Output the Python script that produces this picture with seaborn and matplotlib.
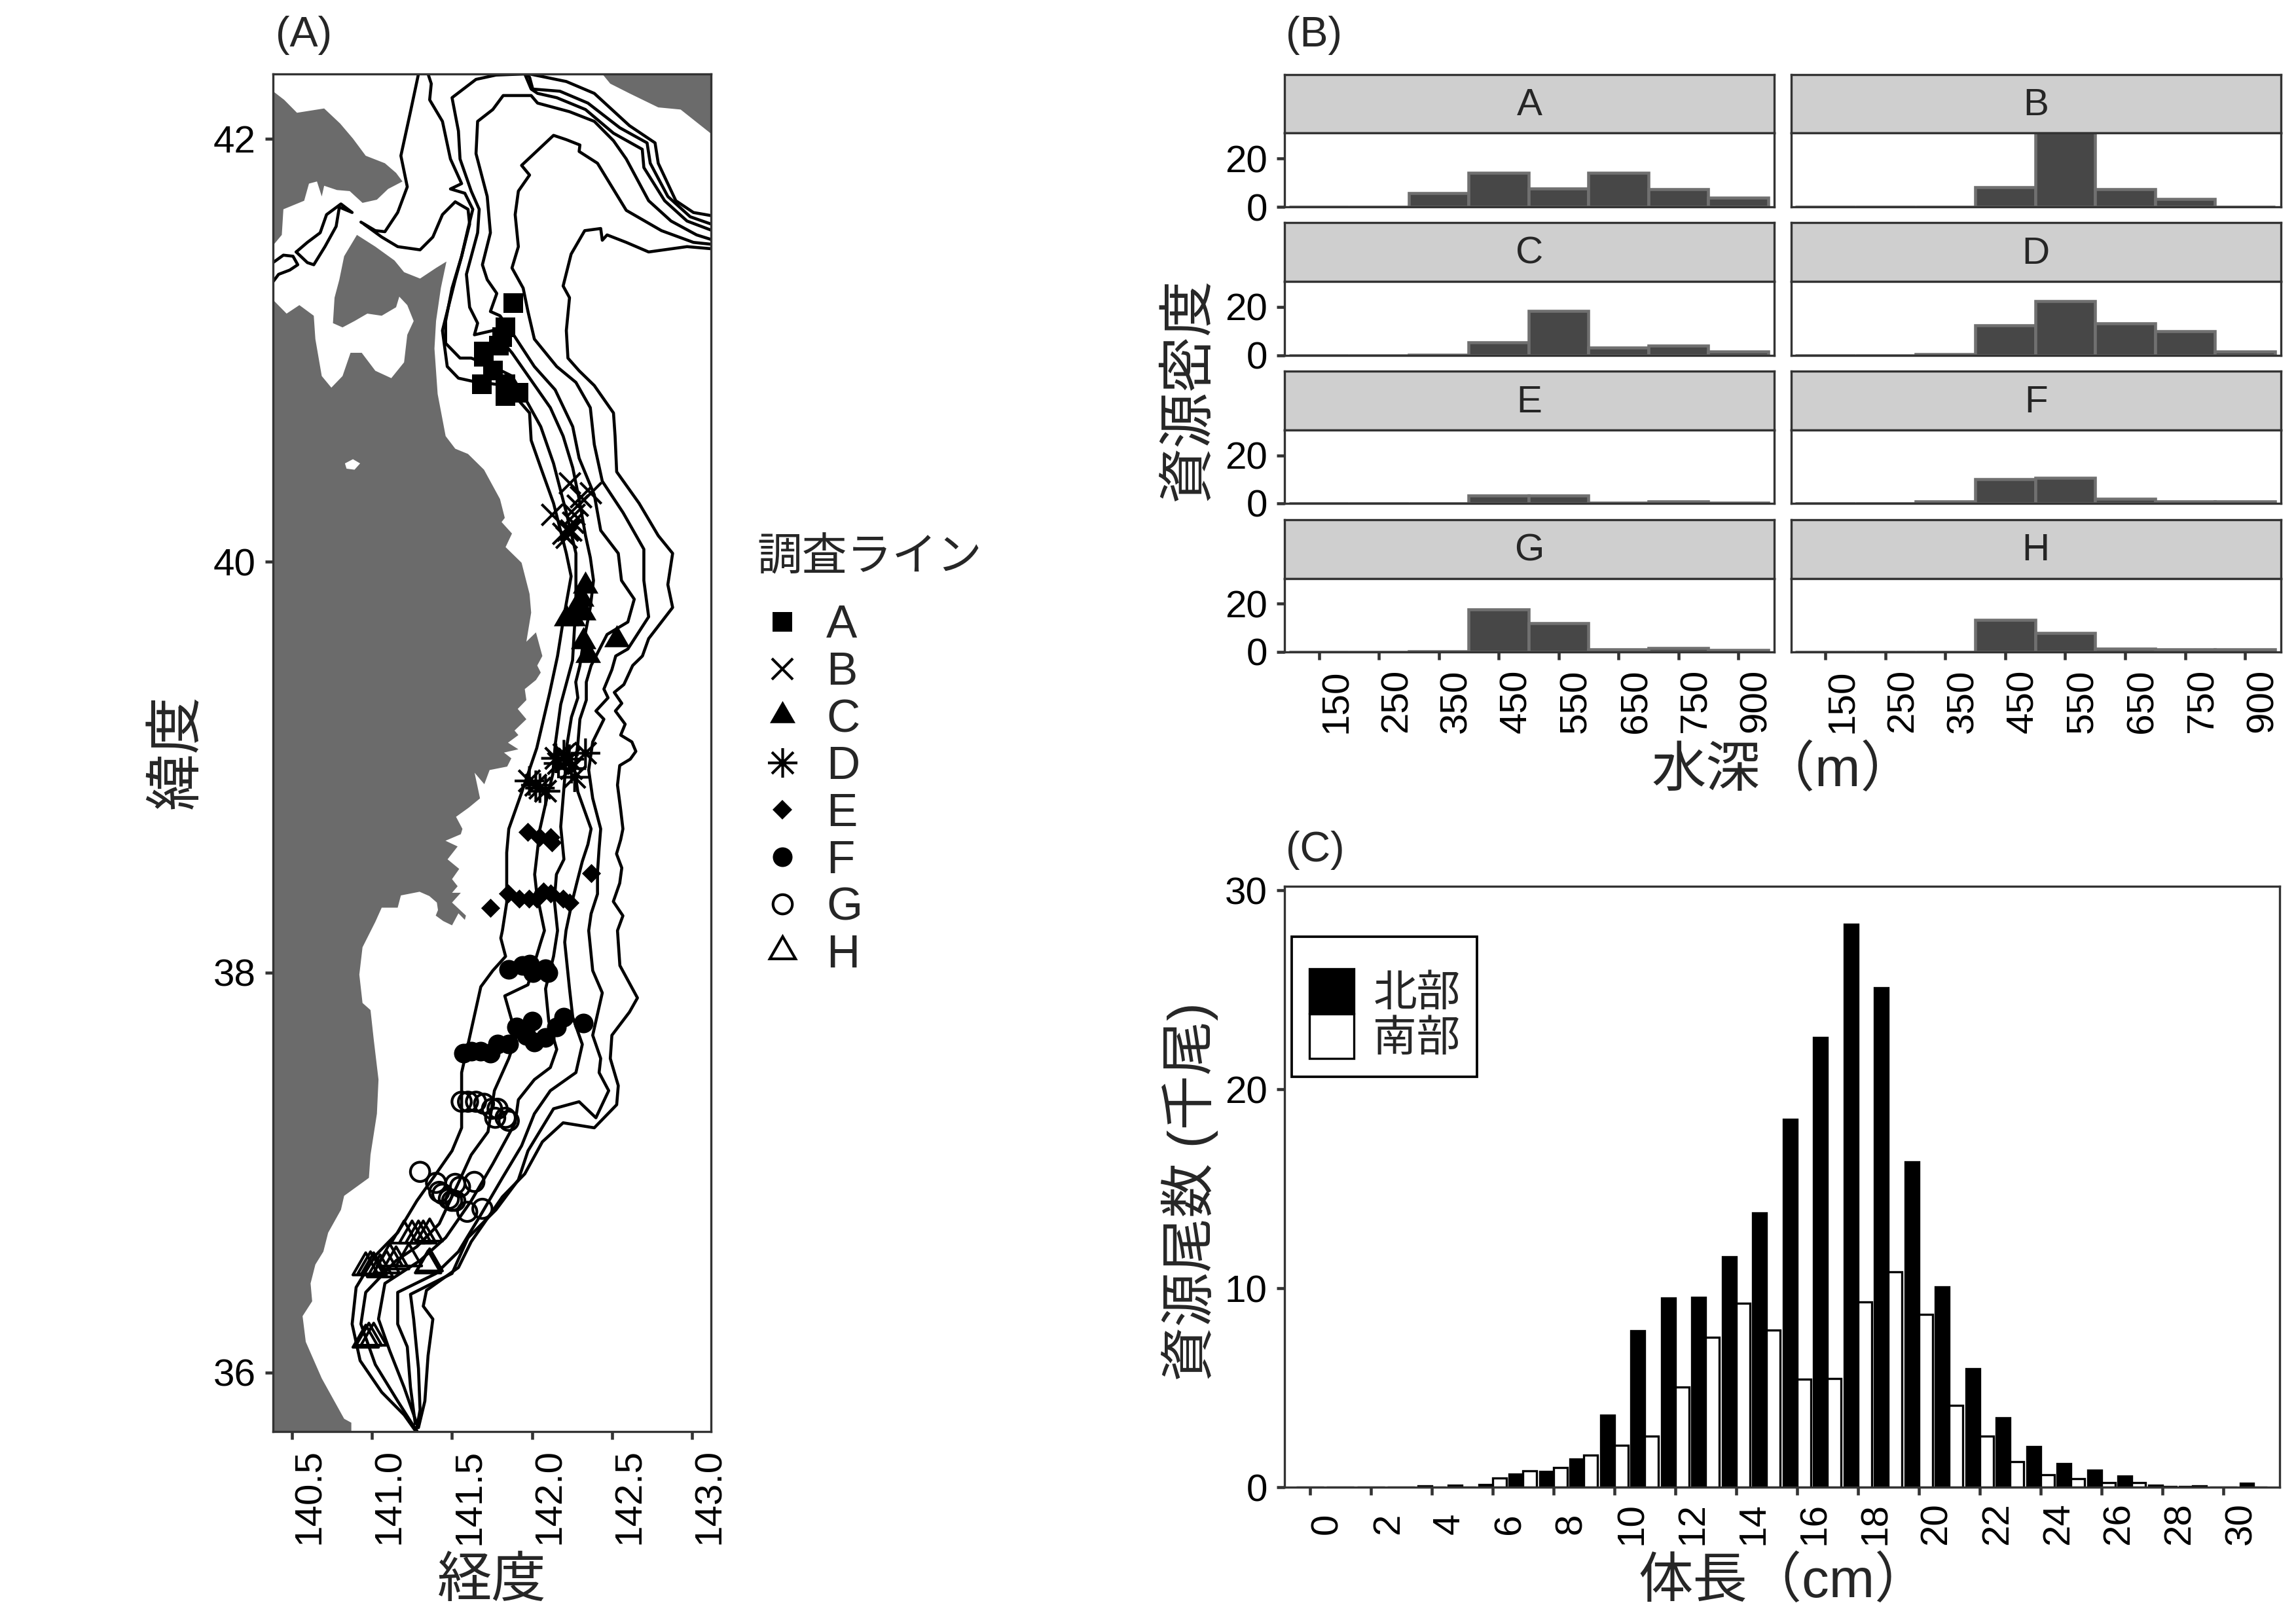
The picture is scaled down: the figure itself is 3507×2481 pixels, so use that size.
import numpy as np
import pandas as pd
import matplotlib
matplotlib.use("Agg")
import matplotlib.pyplot as plt
import seaborn as sns
from matplotlib.lines import Line2D
from matplotlib.path import Path

# ---- map outlines, (lon, lat) ----
hokkaido = [(140.30,42.22),(140.38,42.22),(140.45,42.18),(140.53,42.12),(140.615,42.13),(140.70,42.14),(140.80,42.07),
    (140.88,42.0),(140.96,41.92),(141.08,41.885),(141.15,41.84),(141.19,41.80),(141.10,41.765),(141.03,41.715),
    (140.94,41.70),(140.86,41.755),(140.78,41.76),(140.70,41.78),(140.685,41.73),(140.655,41.80),(140.605,41.79),
    (140.575,41.71),(140.445,41.67),(140.435,41.55),(140.385,41.505),(140.30,41.505)]
honshu = [(140.30,41.245),(140.38,41.245),(140.465,41.18),(140.545,41.22),(140.635,41.17),(140.645,41.06),(140.685,40.885),
    (140.745,40.83),(140.815,40.885),(140.865,40.995),(140.935,40.995),(141.02,40.91),(141.12,40.875),(141.20,40.95),
    (141.22,41.08),(141.26,41.145),(141.22,41.22),(141.17,41.26),(141.15,41.21),(141.06,41.17),(140.97,41.18),
    (140.89,41.145),(140.815,41.115),(140.755,41.135),(140.765,41.255),(140.795,41.34),(140.825,41.45),(140.905,41.55),
    (141.02,41.495),(141.14,41.43),(141.20,41.375),(141.30,41.345),(141.40,41.395),(141.465,41.425),(141.43,41.30),
    (141.40,41.145),(141.39,41.015),(141.41,40.80),(141.46,40.60),(141.52,40.54),(141.60,40.515),(141.70,40.44),
    (141.80,40.30),(141.83,40.21),(141.81,40.19),(141.875,40.135),(141.835,40.07),(141.935,39.995),(141.985,39.845),
    (141.995,39.755),(141.965,39.615),(142.025,39.66),(142.065,39.546),(142.033,39.50),(142.055,39.466),(142.025,39.43),
    (141.955,39.386),(141.965,39.333),(141.911,39.29),(141.965,39.24),(141.891,39.185),(141.915,39.163),(141.85,39.126),
    (141.915,39.094),(141.825,39.078),(141.871,39.05),(141.845,39.01),(141.735,38.993),(141.702,38.924),(141.641,38.98),
    (141.675,38.855),(141.605,38.81),(141.525,38.765),(141.565,38.706),(141.555,38.68),(141.459,38.648),(141.535,38.62),
    (141.472,38.557),(141.545,38.51),(141.5,38.46),(141.535,38.425),(141.5,38.393),(141.555,38.393),(141.5,38.345),
    (141.587,38.281),(141.58,38.26),(141.54,38.292),(141.5,38.233),(141.445,38.254),(141.398,38.281),(141.412,38.308),
    (141.405,38.345),(141.358,38.377),(141.297,38.398),(141.18,38.38),(141.16,38.32),(141.06,38.32),
    (141.02,38.25),(140.94,38.125),(140.92,37.99),(140.94,37.85),(140.99,37.815),(141.01,37.67),(141.04,37.47),
    (141.03,37.30),(140.99,37.095),(140.98,36.98),(140.825,36.89),(140.805,36.82),(140.725,36.705),(140.695,36.61),
    (140.645,36.545),(140.615,36.45),(140.625,36.36),(140.565,36.285),(140.585,36.155),(140.685,35.97),(140.825,35.765),
    (140.87,35.745),(140.87,35.60),(140.30,35.60)]
east_land = [(142.44,42.30),(142.49,42.255),(142.61,42.21),(142.79,42.145),(142.93,42.135),(143.125,42.02),(143.3,42.02),
    (143.3,42.4),(142.44,42.4)]
lake = [(140.83,40.47),(140.88,40.49),(140.925,40.47),(140.89,40.44),(140.84,40.445)]

# ---- depth contours, (lon, lat) ----
strait_a = [(140.93,41.61),(141.02,41.57),(141.08,41.565),(141.16,41.655),(141.22,41.775),(141.18,41.92),(141.24,42.125),(141.29,42.30),(141.30,42.4)]
strait_b = [(140.30,41.40),(140.38,41.42),(140.445,41.455),(140.505,41.45),(140.535,41.41),(140.485,41.385),(140.415,41.365),(140.38,41.33),(140.30,41.30)]
strait_c = [(140.525,41.47),(140.595,41.515),(140.675,41.56),(140.715,41.645),(140.805,41.695),(140.875,41.655),(140.795,41.68),
    (140.775,41.59),(140.705,41.495),(140.635,41.41),(140.595,41.42),(140.525,41.47)]
nest_a = [(141.985,42.30),(142.215,42.265),(142.39,42.21),(142.61,42.06),(142.77,41.98),(142.79,41.885),(142.90,41.71),(143.01,41.655),(143.2,41.63)]
nest_b = [(141.935,42.32),(141.985,42.285),(142.005,42.23),(142.175,42.22),(142.35,42.165),(142.55,42.05),(142.72,41.98),(142.74,41.885),(142.85,41.73),(142.99,41.635),(143.2,41.58)]
depth_1 = [(141.35,42.30),(141.37,42.255),(141.36,42.18),(141.44,42.08),(141.49,41.905),(141.56,41.79),(141.49,41.765),(141.58,41.745),
    (141.63,41.67),(141.60,41.58),(141.56,41.45),(141.52,41.34),(141.47,41.19),(141.44,41.10),(141.47,40.93),(141.54,40.875),(141.63,40.86),
    (141.835,40.84),(141.985,40.71),(141.995,40.58),(142.055,40.45),(142.135,40.28),(142.215,40.04),(142.245,39.93),(142.195,39.715),
    (142.16,39.546),(142.11,39.365),(142.03,39.10),(141.937,38.887),(141.855,38.706),(141.842,38.59),(141.842,38.345),(141.815,38.207),
    (141.805,38.17),(141.835,38.08),(141.755,38.01),(141.68,37.93),(141.60,37.645),(141.56,37.505),(141.56,37.37),(141.56,37.23),(141.50,37.115),
    (141.40,37.0),(141.28,36.865),(141.16,36.705),(141.02,36.59),(140.90,36.43),(140.875,36.245),(140.925,36.06),(141.06,35.90),(141.20,35.785),(141.27,35.705)]
depth_2 = [(140.95,41.60),(141.06,41.54),(141.16,41.495),(141.30,41.48),(141.38,41.54),(141.44,41.645),(141.52,41.705),(141.60,41.67),(141.61,41.60),
    (141.56,41.45),(141.50,41.30),(141.46,41.145),(141.46,41.04),(141.55,40.97),(141.62,40.97),(141.755,40.93),(141.875,40.885),(141.975,40.755),
    (142.055,40.645),(142.135,40.47),(142.215,40.235),(142.275,40.04),(142.275,39.80),(142.254,39.525),(142.18,39.312),(142.146,39.12),(142.13,38.972),
    (142.09,38.845),(142.05,38.706),(142.017,38.483),(142.03,38.39),(142.078,38.207),(142.055,38.15),(141.975,37.94),(141.83,37.885),(141.875,37.76),(141.905,37.69),
    (141.855,37.575),(141.765,37.415),(141.725,37.21),(141.62,37.095),(141.54,36.955),(141.42,36.75),(141.28,36.635),(141.15,36.565),(140.96,36.405),
    (140.93,36.245),(141.02,36.04),(141.16,35.855),(141.25,35.74),(141.28,35.705)]
depth_3 = [(143.2,41.55),(142.97,41.615),(142.83,41.71),(142.70,41.865),(142.69,41.95),(142.51,42.025),(142.335,42.135),(142.155,42.19),(142.035,42.21),
    (141.995,42.23),(141.955,42.30),(141.775,42.295),(141.65,42.275),(141.50,42.19),(141.54,42.035),(141.55,41.905),(141.62,41.755),(141.67,41.67),
    (141.66,41.56),(141.59,41.365),(141.61,41.21),(141.66,41.135),(141.64,41.08),(141.755,41.10),(141.875,40.995),(141.995,40.865),(142.115,40.735),
    (142.195,40.60),(142.255,40.45),(142.295,40.30),(142.335,40.125),(142.365,40.02),(142.385,39.91),(142.365,39.78),(142.315,39.58),(142.30,39.50),
    (142.274,39.42),(142.287,39.344),(142.247,39.25),(142.22,39.12),(142.207,38.972),(142.18,38.717),(142.2,38.557),(142.153,38.483),(142.14,38.356),
    (142.16,38.207),(142.135,38.08),(142.085,37.92),(142.105,37.76),
    (142.155,37.62),(142.115,37.53),(142.015,37.47),(141.915,37.37),(141.895,37.255),(141.755,37.05),(141.62,36.865),(141.46,36.68),(141.30,36.565),
    (141.08,36.45),(141.04,36.27),(141.11,36.11),(141.20,35.925),(141.28,35.74)]
depth_4 = [(143.2,41.51),(143.03,41.55),(142.87,41.615),(142.73,41.71),(142.59,41.905),(142.51,41.99),(142.39,42.08),(142.235,42.125),(142.035,42.165),
    (141.995,42.20),(141.82,42.20),(141.755,42.135),(141.66,42.08),(141.65,41.93),(141.72,41.73),(141.74,41.56),(141.69,41.41),(141.72,41.34),(141.78,41.275),
    (141.74,41.19),(141.80,41.17),(141.885,41.08),(142.015,40.93),(142.145,40.82),(142.255,40.645),(142.295,40.495),(142.39,40.32),(142.43,40.15),(142.54,40.04),
    (142.56,39.91),(142.64,39.82),(142.60,39.71),(142.47,39.65),(142.41,39.56),(142.37,39.50),(142.34,39.42),(142.34,39.333),(142.30,39.24),(142.287,39.12),
    (142.267,38.993),(142.287,38.887),(142.37,38.706),(142.35,38.63),(142.315,38.547),(142.28,38.44),(142.25,38.345),(142.213,38.207),(142.205,38.15),
    (142.235,37.92),(142.255,37.78),(142.315,37.645),(142.275,37.505),(142.115,37.415),(142.015,37.30),
    (141.935,37.14),(141.815,36.98),(141.68,36.795),(141.54,36.61),(141.40,36.50),(141.16,36.405),(141.16,36.245),(141.22,36.13),(141.24,35.925),(141.27,35.74)]
depth_5 = [(143.2,41.50),(143.01,41.515),(142.81,41.57),(142.59,41.665),(142.41,41.885),(142.295,41.94),(142.30,41.97),(142.215,41.995),(142.135,42.015),
    (141.935,41.875),(141.985,41.83),(141.915,41.755),(141.895,41.645),(141.915,41.495),(141.875,41.395),(141.945,41.30),(141.975,41.19),(142.015,41.06),
    (142.155,40.93),(142.275,40.855),(142.365,40.735),(142.39,40.56),(142.44,40.385),(142.57,40.235),(142.70,40.06),(142.70,39.91),(142.73,39.735),(142.60,39.58),
    (142.524,39.546),(142.5,39.48),(142.45,39.386),(142.476,39.344),(142.40,39.28),(142.45,39.24),(142.38,39.13),(142.355,38.993),(142.38,38.855),(142.43,38.706),
    (142.42,38.61),(142.41,38.494),(142.41,38.387),(142.37,38.29),(142.355,38.207),(142.38,38.01),(142.44,37.90),
    (142.38,37.69),(142.43,37.575),(142.42,37.505),(142.48,37.415),(142.40,37.28),(142.295,37.36),(142.135,37.325),(141.975,37.115),(141.915,36.97),(141.775,36.82),
    (141.60,36.68),(141.50,36.50),(141.24,36.395),(141.26,36.27),(141.29,36.02),(141.30,35.81),(141.28,35.72)]
depth_6 = [(143.2,41.48),(142.97,41.495),(142.73,41.47),(142.59,41.515),(142.47,41.55),(142.44,41.525),(142.43,41.58),(142.33,41.57),(142.245,41.46),(142.195,41.31),
    (142.235,41.255),(142.215,41.10),(142.225,40.97),(142.295,40.91),(142.39,40.84),(142.51,40.71),(142.52,40.60),(142.53,40.43),(142.67,40.28),(142.79,40.125),
    (142.88,40.04),(142.85,39.89),(142.88,39.78),(142.73,39.63),(142.691,39.546),(142.63,39.50),(142.575,39.408),(142.515,39.37),(142.562,39.317),(142.522,39.28),
    (142.583,39.216),(142.555,39.163),(142.625,39.13),(142.65,39.084),(142.615,39.046),(142.549,39.015),(142.535,38.92),(142.555,38.80),(142.569,38.706),(142.555,38.653),
    (142.529,38.584),(142.562,38.515),(142.549,38.44),(142.509,38.35),(142.569,38.28),(142.535,38.207),(142.55,38.035),(142.66,37.875),(142.61,37.805),(142.50,37.69),(142.49,37.575),(142.54,37.44),
    (142.53,37.345),(142.39,37.23),(142.195,37.255),(142.065,37.16),(141.955,37.0),(141.815,36.885),(141.62,36.66),(141.54,36.53),(141.34,36.415),(141.32,36.335),
    (141.38,36.27),(141.35,36.085),(141.33,35.855),(141.29,35.72)]

# ---- survey stations ----
line_a = [(141.885,41.23),(141.835,41.115),(141.815,41.07),(141.795,41.03),(141.70,40.975),(141.70,41.0),(141.755,40.91),(141.685,40.845),(141.835,40.845),(141.835,40.79),(141.915,40.805)]
line_b = [(142.235,40.375),(142.305,40.31),(142.365,40.33),(142.125,40.225),(142.265,40.225),(142.285,40.27),(142.255,40.19),(142.195,40.135),(142.225,40.15),(142.215,40.115),(142.245,40.15)]
line_c = [(142.335,39.885),(142.31,39.82),(142.28,39.78),(142.32,39.755),(142.215,39.725),(142.255,39.725),(142.32,39.615),(142.35,39.55),(142.53,39.625)]
line_d = [(142.15,39.05),(142.20,39.068),(142.234,39.046),(142.335,39.075),(142.267,38.958),(141.984,38.94),(142.024,38.919),(142.05,38.905),(142.085,38.89),(142.166,39.025),(142.247,39.0)]
line_e = [(141.975,38.69),(142.045,38.665),(142.115,38.665),(142.125,38.64),(142.37,38.49),(141.74,38.32),(141.85,38.39),(141.92,38.365),(141.98,38.365),(142.03,38.365),(142.07,38.40),(142.115,38.39),(142.195,38.365),(142.235,38.345)]
line_f = [(141.855,38.015),(141.94,38.035),(141.985,38.04),(142.005,38.0),(142.085,38.02),(142.10,38.0),(142.0,37.76),(141.905,37.73),(141.965,37.69),(142.015,37.655),(142.085,37.68),(142.155,37.73),(142.20,37.78),(142.32,37.75),(141.57,37.60),(141.62,37.61),(141.68,37.61),(141.74,37.60),(141.785,37.645),(141.855,37.645)]
line_g = [(141.56,37.36),(141.60,37.36),(141.65,37.36),(141.70,37.35),(141.75,37.325),(141.785,37.325),(141.77,37.28),(141.835,37.28),(141.855,37.265),(141.30,37.01),(141.40,36.955),(141.42,36.91),(141.52,36.95),(141.55,36.935),(141.64,36.96),(141.44,36.90),(141.48,36.875),(141.50,36.865),(141.52,36.865),(141.595,36.81),(141.69,36.825)]
line_h = [(141.20,36.69),(141.25,36.69),(141.29,36.69),(141.32,36.69),(141.36,36.70),(140.96,36.53),(140.99,36.535),(141.01,36.53),(141.05,36.52),(141.09,36.54),(141.11,36.575),(141.15,36.56),(141.23,36.575),(141.36,36.55),(141.35,36.54),(140.96,36.165),(140.98,36.175),(141.01,36.175)]

# ---- panel B ----
depth_bins = ["150", "250", "350", "450", "550", "650", "750", "900"]
dens_a = [0, 0, 5.6, 14.2, 7.6, 14.2, 7.2, 3.8]
dens_b = [0, 0, 0.1, 8.2, 31, 7.4, 3.2, 0]
dens_c = [0, 0, 0.1, 5.4, 18.4, 3.2, 4.0, 1.4]
dens_d = [0, 0, 0.3, 12.4, 22.4, 13.2, 9.8, 1.6]
dens_e = [0, 0, 0.1, 3.2, 3.2, 0.4, 0.7, 0.3]
dens_f = [0, 0, 0.7, 10.0, 10.6, 2.0, 0.8, 0.9]
dens_g = [0, 0, 0.3, 17.8, 12.0, 1.2, 1.6, 0.9]
dens_h = [0, 0, 0.1, 13.4, 8.0, 1.4, 1.2, 1.0]
panel_names = ["A", "B", "C", "D", "E", "F", "G", "H"]

# ---- panel C ----
length_cm = list(range(32))
north = [0, 0, 0, 0, 0.05, 0.1, 0.12, 0.65, 0.8, 1.4, 3.63, 7.85, 9.5, 9.55, 11.57, 13.8, 18.5, 22.6,
         28.3, 25.1, 16.35, 10.07, 5.96, 3.49, 2.03, 1.18, 0.85, 0.55, 0.09, 0.03, 0, 0.2]
south = [0, 0, 0, 0, 0, 0, 0.46, 0.83, 1.0, 1.6, 2.12, 2.56, 5.03, 7.53, 9.26, 7.9, 5.43, 5.47,
         9.3, 10.83, 8.68, 4.11, 2.56, 1.29, 0.62, 0.42, 0.23, 0.23, 0.02, 0.05, 0, 0]

W, H = 3507, 2481
sns.set_style("ticks")
plt.rcParams["font.family"] = ["Liberation Sans", "Noto Sans CJK JP", "DejaVu Sans"]
plt.rcParams["axes.edgecolor"] = "#333333"
plt.rcParams["axes.linewidth"] = 0.8
plt.rcParams["xtick.color"] = "#333333"
plt.rcParams["ytick.color"] = "#333333"
plt.rcParams["xtick.labelcolor"] = "black"
plt.rcParams["ytick.labelcolor"] = "black"

fig = plt.figure(figsize=(W / 300, H / 300), dpi=300)


def add_ax(left, top, right, bottom):
    return fig.add_axes([left / W, 1 - bottom / H, (right - left) / W, (bottom - top) / H])


def put_text(x, y, s, **kw):
    fig.text(x / W, 1 - y / H, s, ha=kw.pop("ha", "center"), va="center", **kw)


def merc(lat):
    return np.log(np.tan(np.pi / 4 + np.radians(np.clip(lat, 1, 89)) / 2))


def merc_inv(y):
    return np.degrees(2 * np.arctan(np.exp(y)) - np.pi / 2)


# (A) map
ax = add_ax(417, 113, 1086, 2187)
ax.set_yscale("function", functions=(merc, merc_inv))
for land in [hokkaido, honshu, east_land]:
    ax.fill(*zip(*land), color="#6b6b6b", lw=0, zorder=1)
ax.fill(*zip(*lake), color="white", lw=0, zorder=1)

for c in [strait_a, strait_b, strait_c, nest_a, nest_b, depth_1, depth_2, depth_3, depth_4, depth_5, depth_6]:
    xs, ys = zip(*c)
    sns.lineplot(x=list(xs), y=list(ys), sort=False, estimator=None, color="black", lw=1.1, ax=ax, zorder=2)

star = Path([(-1, 0), (1, 0), (0, -1), (0, 1), (-0.73, -0.73), (0.73, 0.73), (-0.73, 0.73), (0.73, -0.73)],
            [Path.MOVETO, Path.LINETO] * 4)
styles = [
    (line_a, "s", 49, "black", "black", 0),
    (line_b, "x", 60, "black", "black", 1.0),
    (line_c, (3, 0, 0), 117, "black", "black", 0),
    (line_d, star, 117, "none", "black", 1.0),
    (line_e, "D", 24.5, "black", "black", 0),
    (line_f, "o", 52, "black", "black", 0),
    (line_g, "o", 50, "none", "black", 1.0),
    (line_h, (3, 0, 0), 118, "none", "black", 1.0),
]
handles = []
for name, (pts, marker, size, fc, ec, lw) in zip(panel_names, styles):
    xs, ys = zip(*pts)
    sns.scatterplot(x=list(xs), y=list(ys), marker=marker, s=size, facecolor=fc, edgecolor=ec,
                    linewidth=lw, ax=ax, zorder=3, legend=False)
    handles.append(Line2D([], [], ls="", marker=marker, markersize=np.sqrt(size), markerfacecolor=fc,
                          markeredgecolor=ec, markeredgewidth=lw, label=name))

ax.set_xlim(140.38, 143.12)
ax.set_ylim(35.70, 42.30)
ax.set_xticks([140.5, 141.0, 141.5, 142.0, 142.5, 143.0])
ax.set_xticklabels(["140.5", "141.0", "141.5", "142.0", "142.5", "143.0"], rotation=90, ha="left")
ax.set_yticks([36, 38, 40, 42])
ax.set_yticklabels(["36", "38", "40", "42"])
ax.minorticks_off()
ax.tick_params(labelsize=14, length=2.8, width=1.1, pad=3.5)
ax.set_xlabel("")
ax.set_ylabel("")
for s in ax.spines.values():
    s.set_visible(True)

put_text(421, 54, "(A)", fontsize=15.5, ha="left")
put_text(751, 2417, "経度", fontsize=20)
put_text(272, 1148, "緯度", fontsize=21, rotation=90)

leg = fig.legend(handles=handles, title="調査ライン", loc="upper left", bbox_to_anchor=(1156 / W, 1 - 822 / H),
                 frameon=False, fontsize=17, title_fontsize=16.5, alignment="left", labelspacing=0.083,
                 handlelength=1.1, handletextpad=0.4, borderpad=0, borderaxespad=0)
leg._legend_box.sep = 9

# (B) density by depth
dens_all = [dens_a, dens_b, dens_c, dens_d, dens_e, dens_f, dens_g, dens_h]
col_x = [(1962, 2710), (2735.5, 3484)]
row_y = [(114, 203, 316), (340, 430, 542.5), (567, 657, 769), (794, 883.5, 996)]
for i, (name, vals) in enumerate(zip(panel_names, dens_all)):
    row, col = i // 2, i % 2
    left, right = col_x[col]
    top, mid, bottom = row_y[row]

    strip = add_ax(left, top, right, mid)
    strip.set_facecolor("#cfcfcf")
    strip.set_xticks([])
    strip.set_yticks([])
    strip.text(0.5, 0.47, name, transform=strip.transAxes, ha="center", va="center", fontsize=14)

    pan = add_ax(left, mid, right, bottom)
    sns.barplot(x=depth_bins, y=vals, order=depth_bins, color="#474747", saturation=1, width=1,
                edgecolor="#707070", linewidth=1.1, ax=pan)
    pan.set_xlim(-0.576, 7.6)
    pan.set_ylim(0, 30.6)
    pan.set_yticks([0, 20] if col == 0 else [])
    if row == 3:
        pan.set_xticks(range(8))
        pan.set_xticklabels(depth_bins, rotation=90, ha="left")
    else:
        pan.set_xticks([])
    pan.tick_params(labelsize=14, length=2.8, width=1.1, pad=3.5)
    pan.set_xlabel("")
    pan.set_ylabel("")
    for s in pan.spines.values():
        s.set_visible(True)

put_text(1964, 54, "(B)", fontsize=15.5, ha="left")
put_text(2724, 1178, "水深（m）", fontsize=20)
put_text(1817, 595, "資源密度", fontsize=20.5, rotation=90)

# (C) length composition
df = pd.DataFrame({"length": length_cm * 2,
                   "n": north + south,
                   "region": ["北部"] * len(north) + ["南部"] * len(south)})
axc = add_ax(1962, 1354, 3482, 2272)
sns.barplot(data=df, x="length", y="n", hue="region", order=length_cm, hue_order=["北部", "南部"],
            palette={"北部": "black", "南部": "white"}, saturation=1, width=0.9,
            edgecolor="black", linewidth=0.8, legend=False, ax=axc)
axc.set_xlim(-0.83, 31.85)
axc.set_ylim(0, 30.2)
axc.set_yticks([0, 10, 20, 30])
axc.set_xticks(range(0, 31, 2))
axc.set_xticklabels([str(v) for v in range(0, 31, 2)], rotation=90, ha="left")
plt.setp(axc.get_xticklabels(), va="center")
axc.tick_params(axis="x", labelsize=14, length=2.8, width=1.1, pad=10.5)
axc.tick_params(axis="y", labelsize=14, length=2.8, width=1.1, pad=3.5)
axc.set_xlabel("")
axc.set_ylabel("")
for s in axc.spines.values():
    s.set_visible(True)

legc = axc.legend(handles=[Line2D([], [], ls="", marker="s", markersize=16.4, markerfacecolor="black",
                                  markeredgecolor="black", markeredgewidth=0.8, label="北部"),
                           Line2D([], [], ls="", marker="s", markersize=16.4, markerfacecolor="white",
                                  markeredgecolor="black", markeredgewidth=0.8, label="南部")],
                  title=" ", title_fontsize=6.5, loc="upper left", bbox_to_anchor=(0.0075, 0.9165), borderaxespad=0,
                  fancybox=False, framealpha=1, edgecolor="black", fontsize=16, handlelength=1.06,
                  handletextpad=0.42, labelspacing=0.105, borderpad=0.38)
legc.get_frame().set_linewidth(0.9)

put_text(1964, 1299, "(C)", fontsize=15.5, ha="left")
put_text(2725, 2417, "体長（cm）", fontsize=20)
put_text(1817, 1821, "資源尾数 (千尾)", fontsize=20, rotation=90)

fig.savefig("out.png", dpi=300)
